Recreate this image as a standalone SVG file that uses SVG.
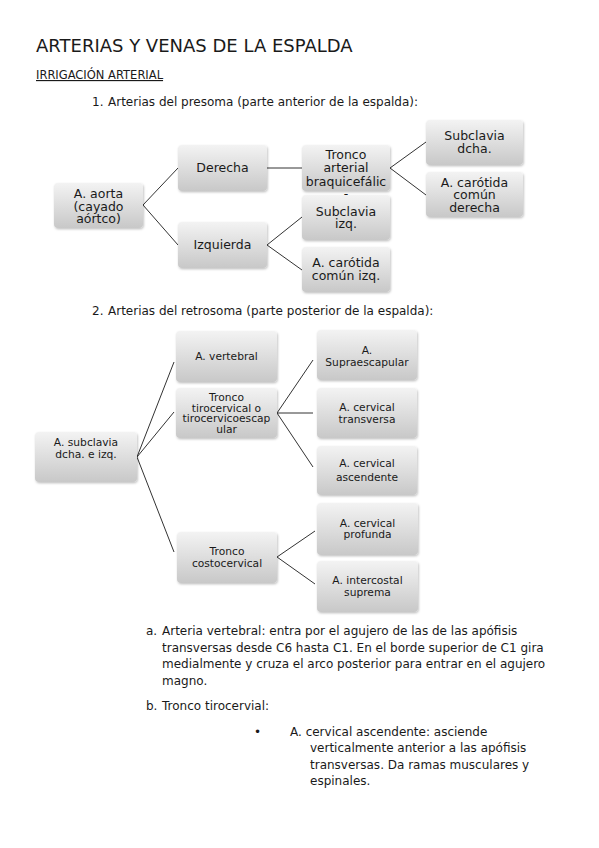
<svg xmlns="http://www.w3.org/2000/svg" width="599" height="848" viewBox="0 0 599 848">
<defs>
<linearGradient id="g" x1="0" y1="0" x2="0" y2="1">
<stop offset="0" stop-color="#f3f3f3"/>
<stop offset="1" stop-color="#c8c8c8"/>
</linearGradient>
<filter id="sh" x="-10%" y="-10%" width="130%" height="130%">
<feDropShadow dx="0.8" dy="1.2" stdDeviation="1" flood-color="#000" flood-opacity="0.25"/>
</filter>
</defs>
<style>
text{font-family:"DejaVu Sans","Liberation Sans",sans-serif;fill:#1a1a1a}
.box{fill:url(#g);filter:url(#sh)}
.n1{font-size:12.5px;text-anchor:middle}
.n2{font-size:10.7px;text-anchor:middle}
.body{font-size:12px}
.conn line{stroke:#333;stroke-width:1}
</style>
<rect width="599" height="848" fill="#fff"/>
<text x="36" y="52" font-size="18" fill="#111">ARTERIAS Y VENAS DE LA ESPALDA</text>
<text x="36" y="79" font-size="11.5" text-decoration="underline">IRRIGACIÓN ARTERIAL</text>
<text class="body" x="92" y="106">1.</text>
<text class="body" x="108" y="106">Arterias del presoma (parte anterior de la espalda):</text>
<text class="body" x="92" y="315">2.</text>
<text class="body" x="108" y="315">Arterias del retrosoma (parte posterior de la espalda):</text>

<g class="conn">
<line x1="143" y1="205" x2="178" y2="168"/>
<line x1="143" y1="205" x2="178" y2="245"/>
<line x1="267" y1="168" x2="302" y2="168"/>
<line x1="267" y1="245" x2="302" y2="217"/>
<line x1="267" y1="245" x2="302" y2="270"/>
<line x1="390" y1="168" x2="426" y2="142"/>
<line x1="390" y1="168" x2="426" y2="195"/>
<line x1="137" y1="457" x2="174" y2="362"/>
<line x1="137" y1="457" x2="174" y2="412"/>
<line x1="137" y1="457" x2="174" y2="552"/>
<line x1="277" y1="413" x2="313" y2="360"/>
<line x1="277" y1="413" x2="313" y2="413"/>
<line x1="277" y1="413" x2="313" y2="467"/>
<line x1="277" y1="557" x2="315" y2="531"/>
<line x1="277" y1="557" x2="315" y2="584"/>
</g>

<g id="aorta"><rect class="box" x="54" y="183" width="89" height="45" rx="4"/>
<text class="n1" x="98.5" y="198">A. aorta</text><text class="n1" x="98.5" y="210.5">(cayado</text><text class="n1" x="98.5" y="223">aórtco)</text></g>
<g id="derecha"><rect class="box" x="178" y="145" width="89" height="46" rx="4"/>
<text class="n1" x="222.5" y="172">Derecha</text></g>
<g id="izquierda"><rect class="box" x="178" y="222" width="89" height="46" rx="4"/>
<text class="n1" x="222.5" y="249">Izquierda</text></g>
<g id="tronco-braq"><rect class="box" x="302" y="145" width="88" height="46" rx="4"/>
<text class="n1" x="346" y="158.5">Tronco</text><text class="n1" x="346" y="172">arterial</text><text class="n1" x="346" y="186">braquicefálic</text><text class="n1" x="346" y="198">-</text></g>
<g id="subclavia-izq"><rect class="box" x="302" y="195" width="88" height="45" rx="4"/>
<text class="n1" x="346" y="216">Subclavia</text><text class="n1" x="346" y="228">izq.</text></g>
<g id="carotida-izq"><rect class="box" x="302" y="247" width="88" height="45" rx="4"/>
<text class="n1" x="346" y="266.5">A. carótida</text><text class="n1" x="346" y="279.5">común izq.</text></g>
<g id="subclavia-dcha"><rect class="box" x="426" y="120" width="97" height="45" rx="4"/>
<text class="n1" x="474.5" y="139.5">Subclavia</text><text class="n1" x="474.5" y="152.5">dcha.</text></g>
<g id="carotida-dcha"><rect class="box" x="426" y="172" width="97" height="45" rx="4"/>
<text class="n1" x="474.5" y="186.5">A. carótida</text><text class="n1" x="474.5" y="199">común</text><text class="n1" x="474.5" y="211.5">derecha</text></g>

<g id="subclavia"><rect class="box" x="35" y="432" width="102" height="50" rx="4"/>
<text class="n2" x="86" y="446">A. subclavia</text><text class="n2" x="86" y="457.5">dcha. e izq.</text></g>
<g id="vertebral"><rect class="box" x="176" y="331" width="101" height="51" rx="4"/>
<text class="n2" x="226.5" y="360">A. vertebral</text></g>
<g id="tirocervical"><rect class="box" x="176" y="388" width="101" height="50" rx="4"/>
<text class="n2" x="226.5" y="401">Tronco</text><text class="n2" x="226.5" y="411.5">tirocervical o</text><text class="n2" x="226.5" y="422">tirocervicoescap</text><text class="n2" x="226.5" y="433">ular</text></g>
<g id="supraescapular"><rect class="box" x="317" y="330" width="100" height="50" rx="4"/>
<text class="n2" x="367" y="354">A.</text><text class="n2" x="367" y="365.5">Supraescapular</text></g>
<g id="transversa"><rect class="box" x="317" y="388" width="100" height="50" rx="4"/>
<text class="n2" x="367" y="411">A. cervical</text><text class="n2" x="367" y="422.5">transversa</text></g>
<g id="ascendente"><rect class="box" x="317" y="446" width="100" height="49" rx="4"/>
<text class="n2" x="367" y="467">A. cervical</text><text class="n2" x="367" y="480.5">ascendente</text></g>
<g id="costocervical"><rect class="box" x="177" y="532" width="100" height="51" rx="4"/>
<text class="n2" x="227" y="555">Tronco</text><text class="n2" x="227" y="567">costocervical</text></g>
<g id="profunda"><rect class="box" x="317" y="503" width="101" height="52" rx="4"/>
<text class="n2" x="367.5" y="527">A. cervical</text><text class="n2" x="367.5" y="538">profunda</text></g>
<g id="suprema"><rect class="box" x="317" y="561" width="101" height="51" rx="4"/>
<text class="n2" x="367.5" y="584">A. intercostal</text><text class="n2" x="367.5" y="596">suprema</text></g>

<text class="body" x="146" y="635">a.</text>
<text class="body" x="162" y="635">Arteria vertebral: entra por el agujero de las de las apófisis</text>
<text class="body" x="162" y="652">transversas desde C6 hasta C1. En el borde superior de C1 gira</text>
<text class="body" x="162" y="668">medialmente y cruza el arco posterior para entrar en el agujero</text>
<text class="body" x="162" y="685">magno.</text>
<text class="body" x="146" y="710">b.</text>
<text class="body" x="162" y="710">Tronco tirocervial:</text>
<text class="body" x="254" y="736">•</text>
<text class="body" x="290" y="736">A. cervical ascendente: asciende</text>
<text class="body" x="310" y="752">verticalmente anterior a las apófisis</text>
<text class="body" x="310" y="769">transversas. Da ramas musculares y</text>
<text class="body" x="310" y="785">espinales.</text>
</svg>
